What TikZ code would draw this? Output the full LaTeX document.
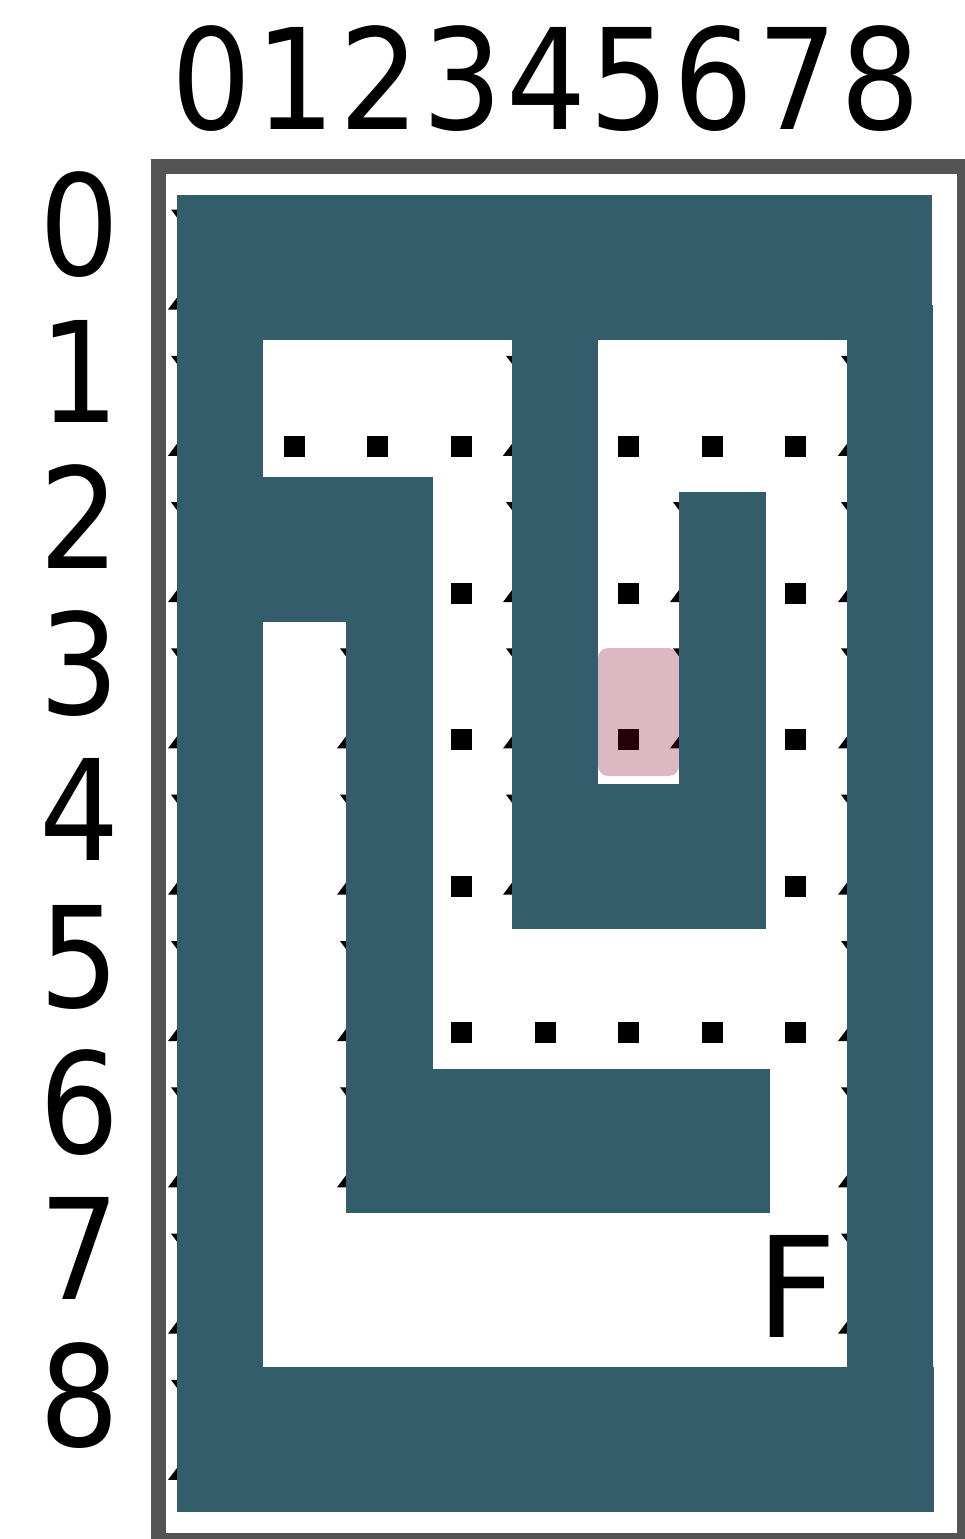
\documentclass[tikz,border=0pt]{standalone}
\usepackage{fontspec}
\setmainfont{DejaVu Sans}
\newfontfamily\lblfont[FakeStretch=0.9]{DejaVu Sans}
\definecolor{wallc}{RGB}{52,93,107}
\definecolor{framec}{RGB}{84,84,84}
\definecolor{hlc}{RGB}{126,0,36}
\begin{document}
\begin{tikzpicture}[x=1pt,y=-1pt,
  wall/.style={fill=wallc, draw=none},
  dotsq/.style={fill=black, draw=none},
  tickm/.style={fill=black, draw=none},
  lbl/.style={font=\lblfont\fontsize{140}{140}\selectfont, inner sep=0pt, outer sep=0pt, anchor=base},
  finlbl/.style={font=\fontsize{140}{140}\selectfont, inner sep=0pt, outer sep=0pt, anchor=base west},
  hilite/.style={fill=hlc, fill opacity=0.28, draw=none, rounded corners=10pt},
  framebox/.style={draw=framec, line width=15pt}
]
\useasboundingbox (0,0) rectangle (964,1539);
% frame
\draw[framebox] (158.5,166.5) rectangle (964.5,1540.5);
% labels
\foreach \c in {0,...,8} {
  \node[lbl] (col\c) at ({212+83.6*\c},129) {\c};
}
\foreach \r in {0,...,8} {
  \node[lbl] (row\r) at (80,{275.7+146.3*\r}) {\r};
}
\node[finlbl] (fin) at (756.3,1337) {F};
% dots
\foreach \px/\py in {294.5/446.5, 377.5/446.5, 461.5/446.5, 628.5/446.5, 712.5/446.5, 795.5/446.5,
                     461.5/593.5, 628.5/593.5, 795.5/593.5,
                     461.5/739.5, 628.5/739.5, 795.5/739.5,
                     461.5/886.5, 795.5/886.5,
                     461.5/1032.5, 545/1032.5, 628.5/1032.5, 712.5/1032.5, 795.5/1032.5} {
  \fill[dotsq] ({\px-10.5},{\py-10.5}) rectangle ++(21,21);
}
% tick marks at wall edges
\foreach \xx/\ka/\kb in {177/0/8, 346/3/6, 512/1/4, 679/2/3, 847/1/7} {
  \foreach \k in {\ka,...,\kb} {
    \fill[tickm] ({\xx-6},{209.5+146.3*\k}) -- ++(6,0) -- ++(0,8) -- cycle;
    \fill[tickm] ({\xx-9},{309.5+146.3*\k}) -- ++(9,0) -- ++(0,-12) -- cycle;
  }
}
% highlight
\fill[hilite] (598,648) rectangle (679,776);
% walls
\fill[wall] (177,195) rectangle (932,340);
\fill[wall] (847,305) rectangle (933,1512);
\fill[wall] (177,195) rectangle (263,1512);
\fill[wall] (177,1367) rectangle (934,1512);
\fill[wall] (263,477) rectangle (432.5,622);
\fill[wall] (346,622) rectangle (432.5,1213);
\fill[wall] (346,1069) rectangle (770,1213);
\fill[wall] (512,340) rectangle (598,929);
\fill[wall] (598,784) rectangle (766,929);
\fill[wall] (679,492) rectangle (766,784);
\end{tikzpicture}
\end{document}
